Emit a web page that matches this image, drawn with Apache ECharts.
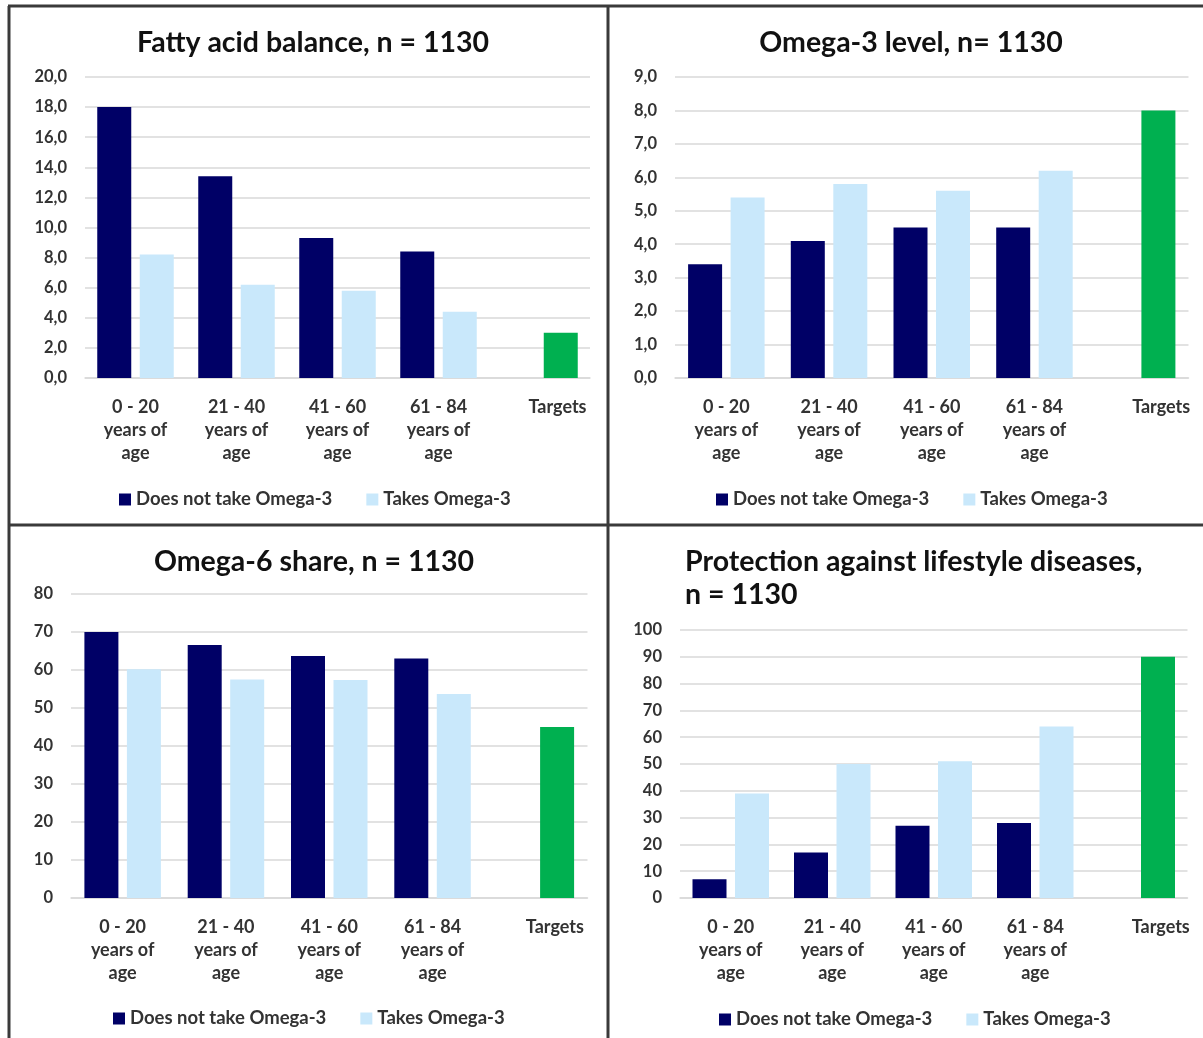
<!DOCTYPE html>
<html>
<head>
<meta charset="utf-8">
<script src="https://cdn.jsdelivr.net/npm/echarts@6/dist/echarts.min.js"></script>
<style>
html,body{margin:0;padding:0;background:#fff;}
#c{width:1203px;height:1038px;}
</style>
</head>
<body>
<div id="c"></div>
<script>
// ---- data ----
const categories = ['0 - 20\nyears of\nage', '21 - 40\nyears of\nage', '41 - 60\nyears of\nage', '61 - 84\nyears of\nage', 'Targets'];
const seriesNames = ['Does not take Omega-3', 'Takes Omega-3'];
const titles = ['Fatty acid balance, n = 1130', 'Omega-3 level, n= 1130', 'Omega-6 share, n = 1130', 'Protection against lifestyle diseases,\nn = 1130'];

const fattyNo = [18.0, 13.4, 9.3, 8.4];
const fattyYes = [8.2, 6.2, 5.8, 4.4];
const fattyTarget = 3.0;

const o3No = [3.4, 4.1, 4.5, 4.5];
const o3Yes = [5.4, 5.8, 5.6, 6.2];
const o3Target = 8.0;

const o6No = [70, 66.6, 63.7, 63.0];
const o6Yes = [60.2, 57.5, 57.4, 53.7];
const o6Target = 45;

const protNo = [7, 17, 27, 28];
const protYes = [39, 50, 51, 64];
const protTarget = 90;

const yMax = [20, 9, 80, 100];
const yStep = [2, 1, 10, 10];
const yDecimals = [1, 1, 0, 0];

// ---- style / layout ----
const FONT = 'Lato';
const DARK = '#000066';
const LIGHT = '#C9E8FB';
const GREEN = '#00B050';
const grids = [
  {left: 85, width: 505, top: 77, height: 301},
  {left: 675, width: 513.5, top: 77, height: 301},
  {left: 71, width: 516.5, top: 594, height: 304},
  {left: 680, width: 507.5, top: 630, height: 268}
];
const targetShift = [36, 48, 38, 48];
const legendPos = [{left: 119, top: 490}, {left: 716, top: 490}, {left: 113, top: 1009}, {left: 719, top: 1010}];

const noData = [fattyNo, o3No, o6No, protNo];
const yesData = [fattyYes, o3Yes, o6Yes, protYes];
const targets = [fattyTarget, o3Target, o6Target, protTarget];

const option = {
  animation: false,
  backgroundColor: '#fff',
  textStyle: {fontFamily: FONT},
  title: [
    {text: titles[0], left: 308, top: 21, textAlign: 'center'},
    {text: titles[1], left: 906, top: 21, textAlign: 'center'},
    {text: titles[2], left: 309, top: 540, textAlign: 'center'},
    {text: titles[3], left: 680, top: 540, textAlign: 'left'}
  ].map(t => Object.assign(t, {textStyle: {fontFamily: FONT, fontSize: 28.5, fontWeight: 'bold', color: '#111', lineHeight: 33}})),
  legend: legendPos.map(p => ({
    left: p.left, top: p.top, padding: 0, data: seriesNames, itemWidth: 12, itemHeight: 12, itemGap: 34,
    icon: 'rect', selectedMode: false,
    textStyle: {fontFamily: FONT, fontSize: 18.5, fontWeight: 'bold', color: '#333'}
  })),
  grid: grids,
  xAxis: grids.map((g, i) => ({
    type: 'category', gridIndex: i, data: categories,
    axisLine: {lineStyle: {color: '#d9d9d9', width: 1.5}},
    axisTick: {show: false},
    axisLabel: {
      interval: 0, margin: 18, lineHeight: 23, fontFamily: FONT, fontSize: 18, fontWeight: 'bold', color: '#333',
      formatter: v => v === 'Targets' ? '{t|Targets}' : v,
      rich: {t: {padding: [0, 0, 0, targetShift[i]], fontFamily: FONT, fontSize: 18, fontWeight: 'bold', color: '#333', lineHeight: 23}}
    }
  })),
  yAxis: grids.map((g, i) => ({
    type: 'value', gridIndex: i, min: 0, max: yMax[i], interval: yStep[i],
    axisLine: {show: false}, axisTick: {show: false},
    splitLine: {lineStyle: {color: '#d9d9d9', width: 1.5}},
    axisLabel: {
      margin: 18, fontFamily: FONT, fontSize: 16.5, fontWeight: 'bold', color: '#333',
      formatter: v => v.toFixed(yDecimals[i]).replace('.', ',')
    }
  })),
  series: [],
  graphic: [
    {type: 'line', shape: {x1: 8, y1: 6, x2: 1203, y2: 6}, style: {stroke: '#3a3a3a', lineWidth: 3}},
    {type: 'line', shape: {x1: 9, y1: 6, x2: 9, y2: 1038}, style: {stroke: '#3a3a3a', lineWidth: 3}},
    {type: 'line', shape: {x1: 608, y1: 6, x2: 608, y2: 1038}, style: {stroke: '#3a3a3a', lineWidth: 3}},
    {type: 'line', shape: {x1: 8, y1: 525, x2: 1203, y2: 525}, style: {stroke: '#3a3a3a', lineWidth: 3}}
  ]
};

for (let i = 0; i < 4; i++) {
  option.series.push({
    name: seriesNames[0], type: 'bar', xAxisIndex: i, yAxisIndex: i,
    barWidth: 34, barGap: '25%', itemStyle: {color: DARK},
    data: noData[i].concat(['-'])
  });
  option.series.push({
    name: seriesNames[1], type: 'bar', xAxisIndex: i, yAxisIndex: i,
    barWidth: 34, barGap: '25%', itemStyle: {color: LIGHT},
    data: yesData[i].concat([{value: targets[i], itemStyle: {color: GREEN}}])
  });
}

const chart = echarts.init(document.getElementById('c'), null, {renderer: 'canvas'});
chart.setOption(option);
</script>
</body>
</html>
